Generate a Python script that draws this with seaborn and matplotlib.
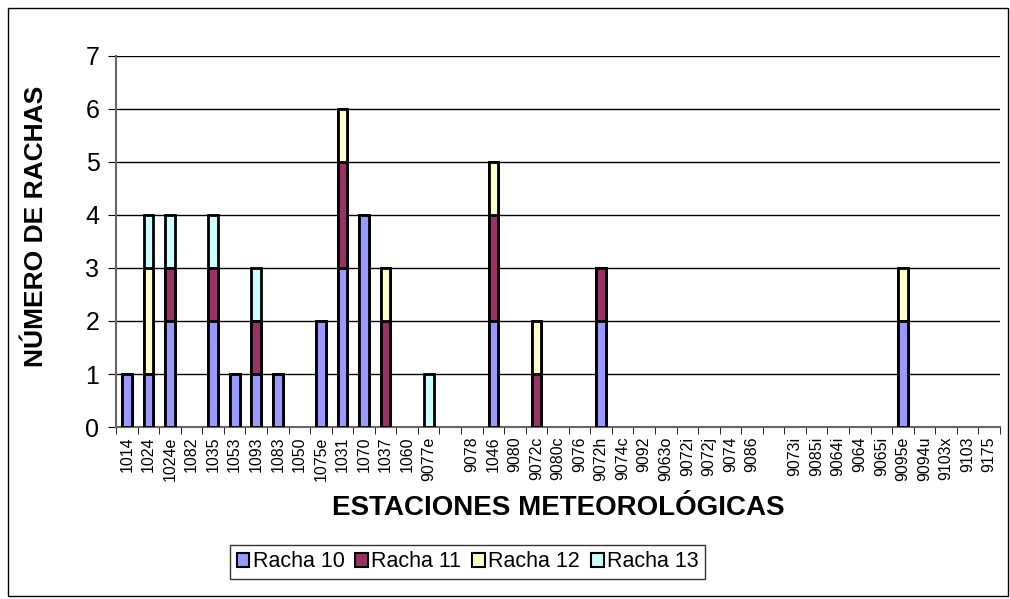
import pandas as pd
import matplotlib.pyplot as plt
import seaborn as sns
import numpy as np
from matplotlib.patches import Rectangle, Patch

estaciones = ['1014', '1024', '1024e', '1082', '1035', '1053', '1093', '1083', '1050', '1075e',
              '1031', '1070', '1037', '1060', '9077e', ' ', '9078', '1046', '9080', '9072c',
              '9080c', '9076', '9072h', '9074c', '9092', '9063o', '9072i', '9072j', '9074', '9086',
              '  ', '9073i', '9085i', '9064i', '9064', '9065i', '9095e', '9094u', '9103x', '9103', '9175']
racha10 = [1, 1, 2, 0, 2, 1, 1, 1, 0, 2, 3, 4, 0, 0, 0, 0, 0, 2, 0, 0,
           0, 0, 2, 0, 0, 0, 0, 0, 0, 0, 0, 0, 0, 0, 0, 0, 2, 0, 0, 0, 0]
racha11 = [0, 0, 1, 0, 1, 0, 1, 0, 0, 0, 2, 0, 2, 0, 0, 0, 0, 2, 0, 1,
           0, 0, 1, 0, 0, 0, 0, 0, 0, 0, 0, 0, 0, 0, 0, 0, 0, 0, 0, 0, 0]
racha12 = [0, 2, 0, 0, 0, 0, 0, 0, 0, 0, 1, 0, 1, 0, 0, 0, 0, 1, 0, 1,
           0, 0, 0, 0, 0, 0, 0, 0, 0, 0, 0, 0, 0, 0, 0, 0, 1, 0, 0, 0, 0]
racha13 = [0, 1, 1, 0, 1, 0, 1, 0, 0, 0, 0, 0, 0, 0, 1, 0, 0, 0, 0, 0,
           0, 0, 0, 0, 0, 0, 0, 0, 0, 0, 0, 0, 0, 0, 0, 0, 0, 0, 0, 0, 0]
series = ['Racha 10', 'Racha 11', 'Racha 12', 'Racha 13']
colores = ['#9999FF', '#993366', '#FFFFCC', '#CCFFFF']

df = pd.DataFrame({'Estacion': estaciones, 'Racha 10': racha10, 'Racha 11': racha11,
                   'Racha 12': racha12, 'Racha 13': racha13})
acum = df[series].cumsum(axis=1)

plt.rcParams['font.family'] = ['Liberation Sans', 'DejaVu Sans']
fig = plt.figure(figsize=(10.1, 5.99), dpi=100)
fig.patches.append(Rectangle((0.008, 0.005), 0.99, 0.982, transform=fig.transFigure,
                             fill=False, edgecolor='black', linewidth=1))
ax = fig.add_axes([0.115, 0.287, 0.875, 0.620])

# stacked bars: draw cumulative totals from the top series down
for s, c in zip(series[::-1], colores[::-1]):
    d = pd.DataFrame({'Estacion': estaciones, 'v': acum[s].values})
    d = d[d['v'] > 0]
    sns.barplot(x='Estacion', y='v', data=d, order=estaciones, color=c, width=0.45,
                edgecolor='black', linewidth=2, saturation=1, ax=ax, zorder=3)

ax.set_xlim(-0.5, len(estaciones) - 0.5)
ax.set_ylim(0, 7)
ax.set_yticks(range(8))
ax.yaxis.grid(True, color='black', linewidth=1, zorder=0)
ax.set_axisbelow(True)
for sp in ['top', 'right']:
    ax.spines[sp].set_visible(False)
ax.spines['left'].set_color('#666666')
ax.spines['bottom'].set_color('#666666')
ax.spines['left'].set_linewidth(1.5)
ax.spines['bottom'].set_linewidth(1.5)

ax.set_xticks(range(len(estaciones)))
ax.set_xticks(np.arange(-0.5, len(estaciones)), minor=True)
ax.tick_params(axis='x', which='major', length=0, pad=7, labelsize=11.5, labelrotation=90)
ax.tick_params(axis='x', which='minor', length=5, direction='out')
ax.tick_params(axis='y', labelsize=18, length=6, direction='out', pad=6)
ax.set_xticklabels(estaciones, rotation=90, fontsize=11.5)

ax.set_xlabel('ESTACIONES METEOROLÓGICAS', fontsize=20, fontweight='bold', labelpad=10)
ax.set_ylabel('NÚMERO DE RACHAS', fontsize=19, fontweight='bold')
ax.yaxis.set_label_coords(-0.077, 0.54)

handles = [Patch(facecolor=c, edgecolor='black', linewidth=1.5, label=s) for s, c in zip(series, colores)]
fig.legend(handles=handles, loc='center', bbox_to_anchor=(0.463, 0.062), ncol=4, fontsize=15.5,
           frameon=True, fancybox=False, edgecolor='black', handlelength=0.6, handleheight=0.6,
           handletextpad=0.15, columnspacing=0.5, borderpad=0.3)

plt.savefig('out.png', dpi=100)
